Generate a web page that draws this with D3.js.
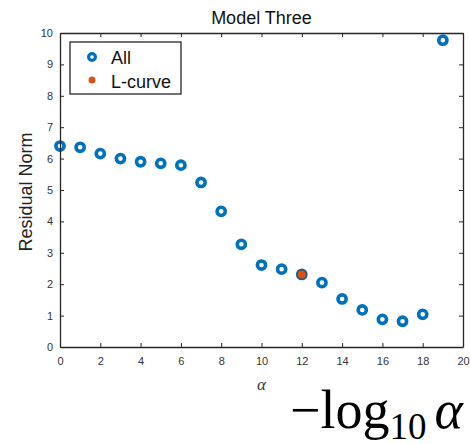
<!DOCTYPE html>
<html>
<head>
<meta charset="utf-8">
<script src="https://cdn.jsdelivr.net/npm/d3@7/dist/d3.min.js"></script>
<style>
  html, body { margin: 0; padding: 0; background: #fff; overflow: hidden; }
  svg { display: block; overflow: hidden; }
</style>
</head>
<body>
<svg id="chart" width="470" height="444"></svg>
<script>
// -log10(alpha) values and the residual norm at each
const alphaIdx = [0, 1, 2, 3, 4, 5, 6, 7, 8, 9, 10, 11, 12, 13, 14, 15, 16, 17, 18, 19];
const residualNorm = [6.40, 6.36, 6.16, 6.00, 5.90, 5.85, 5.79, 5.24, 4.32, 3.27,
                      2.61, 2.48, 2.31, 2.05, 1.53, 1.18, 0.88, 0.82, 1.04, 9.77];
// point chosen by the L-curve criterion
const lCurveIdx = [12];
const lCurveNorm = [2.31];
const xTicks = [0, 2, 4, 6, 8, 10, 12, 14, 16, 18, 20];
const yTicks = [0, 1, 2, 3, 4, 5, 6, 7, 8, 9, 10];
const legendLabels = ["All", "L-curve"];

const svg = d3.select("#chart");
const m = { left: 60, right: 463, top: 33, bottom: 347 };
const x = d3.scaleLinear().domain([0, 20]).range([m.left, m.right]);
const y = d3.scaleLinear().domain([0, 10]).range([m.bottom, m.top]);

const axisColor = "#262626";
const blue = "#0072BD";
const orange = "#D95319";
const font = "Arial, 'Liberation Sans', sans-serif";
const serif = "'Liberation Serif', 'Times New Roman', serif";

function styleAxis(g) {
  g.selectAll("path").attr("stroke", axisColor).attr("stroke-width", 1.3);
  g.selectAll("line").attr("stroke", axisColor).attr("stroke-width", 1);
  g.selectAll("text").attr("fill", "#333").attr("font-family", font).attr("font-size", 11);
}

// title and axis labels
svg.append("text").attr("x", (m.left + m.right) / 2).attr("y", 24)
  .attr("text-anchor", "middle").attr("font-family", font).attr("font-size", 18)
  .attr("fill", "#111").text("Model Three");
svg.append("text")
  .attr("transform", `translate(32,${(m.top + m.bottom) / 2 + 2}) rotate(-90)`)
  .attr("text-anchor", "middle").attr("font-family", font).attr("font-size", 18)
  .attr("fill", "#222").text("Residual Norm");
svg.append("text").attr("x", (m.left + m.right) / 2).attr("y", 390)
  .attr("text-anchor", "middle").attr("font-family", serif)
  .attr("font-style", "italic").attr("font-size", 17).attr("fill", "#333").text("α");

// large formula caption under the axis
const cap = svg.append("text").attr("x", 290).attr("y", 428)
  .attr("font-family", serif).attr("font-size", 54).attr("fill", "#000");
cap.append("tspan").text("−log");
cap.append("tspan").attr("font-size", 37).attr("dy", 11).text("10");
cap.append("tspan").attr("dy", -11).attr("dx", 8).attr("font-style", "italic").text("α");

// all points: hollow rings
svg.append("g").selectAll("circle").data(alphaIdx).join("circle")
  .attr("cx", d => x(d)).attr("cy", (d, i) => y(residualNorm[i]))
  .attr("r", 4.1).attr("fill", "#fff").attr("stroke", blue).attr("stroke-width", 3.6);

// L-curve pick: filled dot on top
svg.append("g").selectAll("circle").data(lCurveIdx).join("circle")
  .attr("cx", d => x(d)).attr("cy", (d, i) => y(lCurveNorm[i]))
  .attr("r", 4.6).attr("fill", orange).attr("stroke", "#3d4f63").attr("stroke-width", 1.2);

// legend
const lg = svg.append("g");
lg.append("rect").attr("x", 70).attr("y", 42).attr("width", 111).attr("height", 52)
  .attr("fill", "#fff").attr("stroke", axisColor).attr("stroke-width", 1.3);
lg.append("circle").attr("cx", 92).attr("cy", 57).attr("r", 3.4)
  .attr("fill", "#fff").attr("stroke", blue).attr("stroke-width", 3.2);
lg.append("circle").attr("cx", 92).attr("cy", 80).attr("r", 3.5).attr("fill", orange);
lg.selectAll("text").data(legendLabels).join("text")
  .attr("x", 111).attr("y", (d, i) => 64 + i * 24)
  .attr("font-family", font).attr("font-size", 18).attr("fill", "#111").text(d => d);

// axes drawn last: bottom/left carry labels, top/right mirror the ticks
svg.append("g").attr("transform", `translate(${m.right},0)`)
  .call(d3.axisRight(y).tickValues(yTicks).tickSizeInner(-4).tickSizeOuter(0).tickFormat(""))
  .call(styleAxis);
svg.append("g").attr("transform", `translate(0,${m.top})`)
  .call(d3.axisTop(x).tickValues(xTicks).tickSizeInner(-4).tickSizeOuter(0).tickFormat(""))
  .call(styleAxis);
svg.append("g").attr("transform", `translate(${m.left},0)`)
  .call(d3.axisLeft(y).tickValues(yTicks).tickSizeInner(-4).tickSizeOuter(0).tickPadding(7))
  .call(styleAxis);
svg.append("g").attr("transform", `translate(0,${m.bottom})`)
  .call(d3.axisBottom(x).tickValues(xTicks).tickSizeInner(-4).tickSizeOuter(0).tickPadding(10))
  .call(styleAxis);
</script>
</body>
</html>
